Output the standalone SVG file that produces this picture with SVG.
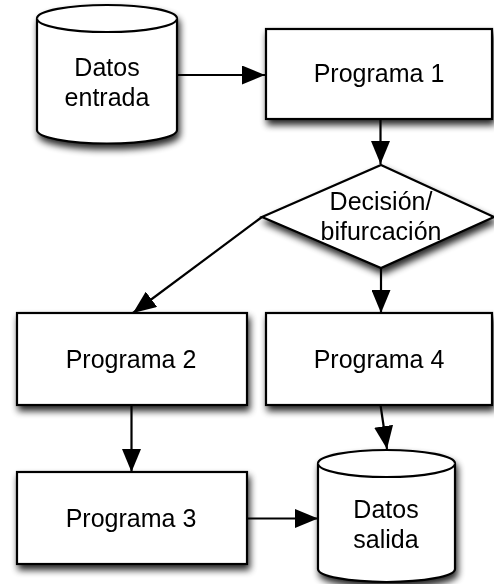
<svg xmlns="http://www.w3.org/2000/svg" width="494" height="584" viewBox="0 0 494 584">
  <defs>
    <filter id="shadow" x="-20%" y="-20%" width="150%" height="160%">
      <feGaussianBlur in="SourceAlpha" stdDeviation="3.5"/>
      <feOffset dx="2" dy="5" result="b"/>
      <feComponentTransfer><feFuncA type="linear" slope="0.85"/></feComponentTransfer>
      <feMerge><feMergeNode/><feMergeNode in="SourceGraphic"/></feMerge>
    </filter>
    <marker id="arrow" markerUnits="userSpaceOnUse" markerWidth="23" markerHeight="19" refX="23" refY="9.5" orient="auto">
      <path d="M0,0 L23,9.5 L0,19 Z" fill="#000"/>
    </marker>
    <style>
      .shape { fill: #fff; stroke: #000; stroke-width: 2.2; }
      .edge { fill: none; stroke: #000; stroke-width: 2.2; marker-end: url(#arrow); }
      text { font-family: "Liberation Sans", Arial, sans-serif; font-size: 25px; fill: #000; text-anchor: middle; }
    </style>
  </defs>

  <!-- Data stores, programs and the decision -->
  <g id="datos-entrada" filter="url(#shadow)">
    <path class="shape" d="M37,18.5 V130 A70,13.5 0 0 0 177,130 V18.5 A70,13.5 0 0 0 37,18.5 Z"/>
    <path class="shape" d="M37,18.5 A70,13.5 0 0 0 177,18.5"/>
    <text x="107" y="76">Datos</text>
    <text x="107" y="106">entrada</text>
  </g>

  <g id="programa-1" filter="url(#shadow)">
    <rect class="shape" x="266" y="29" width="226" height="90"/>
    <text x="379" y="82">Programa 1</text>
  </g>

  <g id="decision" filter="url(#shadow)">
    <polygon class="shape" points="381,165 494,217 381,268 262,217"/>
    <text x="381" y="210">Decisión/</text>
    <text x="381" y="240">bifurcación</text>
  </g>

  <g id="programa-2" filter="url(#shadow)">
    <rect class="shape" x="17" y="313" width="230" height="92"/>
    <text x="131" y="368">Programa 2</text>
  </g>

  <g id="programa-4" filter="url(#shadow)">
    <rect class="shape" x="266" y="313" width="226" height="92"/>
    <text x="379" y="368">Programa 4</text>
  </g>

  <g id="programa-3" filter="url(#shadow)">
    <rect class="shape" x="17" y="472" width="230" height="92"/>
    <text x="131" y="527">Programa 3</text>
  </g>

  <g id="datos-salida" filter="url(#shadow)">
    <path class="shape" d="M318,463.5 V569 A68.5,13 0 0 0 455,569 V463.5 A68.5,13.5 0 0 0 318,463.5 Z"/>
    <path class="shape" d="M318,463.5 A68.5,13.5 0 0 0 455,463.5"/>
    <text x="386" y="518">Datos</text>
    <text x="386" y="548">salida</text>
  </g>

  <!-- Flow connectors -->
  <g id="connectors">
    <path class="edge" d="M177,75 H265"/>
    <path class="edge" d="M380.5,119 V164"/>
    <path class="edge" d="M262,217 L133,313"/>
    <path class="edge" d="M381,268 V313"/>
    <path class="edge" d="M131.5,405 V472"/>
    <path class="edge" d="M380.5,405 L387,449"/>
    <path class="edge" d="M247,518.5 H318"/>
  </g>
</svg>
